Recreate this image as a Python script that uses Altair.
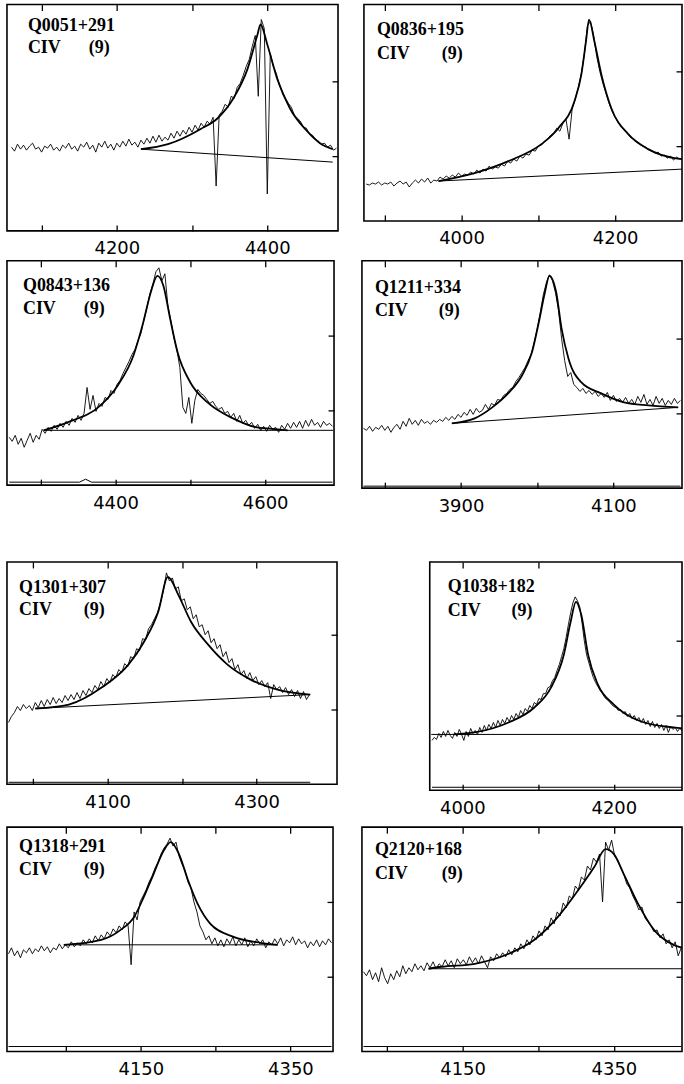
import altair as alt
import pandas as pd

# ---------------- data ----------------
NAMES = ["Q0051+291", "Q0836+195", "Q0843+136", "Q1211+334",
         "Q1301+307", "Q1038+182", "Q1318+291", "Q2120+168"]
LINE_ID = "CIV"
REF_NO = "(9)"
RIGHT_TICKS = [75, 150]

# Panel 1  Q0051+291
P1_W0, P1_DW = 4060, 4
P1_FLUX = [84, 80, 87, 82, 86, 81, 85, 88, 82, 84, 79, 85, 83, 87, 81, 84, 80, 86, 83, 88,
           82, 85, 80, 87, 84, 89, 82, 86, 79, 88, 84, 90, 83, 87, 81, 88, 84, 90, 85, 92,
           86, 89, 84, 91, 87, 93, 88, 95, 89, 96, 90, 94, 91, 98, 93, 100, 95, 101, 97, 104,
           99, 106, 101, 108, 104, 110, 107, 114, 45, 116, 120, 127, 124, 135, 133, 144, 148, 156, 165, 172,
           185, 196, 135, 212, 203, 37, 178, 165, 158, 146, 140, 133, 128, 124, 116, 113, 110, 104, 103, 97,
           96, 92, 90, 87, 88, 84, 86, 81, 83]
P1_FIT_W = [4232, 4268, 4311, 4334, 4355, 4374, 4387, 4391, 4400, 4413, 4430, 4453, 4470, 4487]
P1_FIT_F = [82, 87, 102, 113, 133, 163, 197, 207, 187, 153, 123, 100, 88, 82]
P1_BASE_W = [4232, 4487]
P1_BASE_F = [82, 69]
P1_ZERO_W = []
P1_ZERO_F = []
P1_XDOM = [4054, 4494]
P1_YDOM = [0, 227]
P1_TICKS = [4100, 4200, 4300, 4400]
P1_LABELS = [4200, 4400]

# Panel 2  Q0836+195
P2_W0, P2_DW = 3876, 4
P2_FLUX = [37, 36, 38, 37, 39, 36, 38, 37, 39, 35, 38, 40, 37, 39, 34, 38, 41, 38, 42, 39,
           43, 38, 41, 40, 44, 42, 45, 43, 46, 44, 48, 45, 47, 46, 49, 47, 51, 48, 52, 50,
           55, 52, 54, 53, 57, 55, 60, 58, 62, 60, 65, 63, 67, 66, 71, 70, 75, 76, 80, 82,
           86, 88, 93, 90, 98, 102, 82, 112, 122, 134, 148, 168, 196, 200, 186, 165, 150, 138, 128, 118,
           110, 104, 99, 94, 91, 88, 84, 82, 79, 77, 75, 74, 71, 70, 68, 69, 65, 66, 63, 65,
           61, 64, 62, 63]
P2_FIT_W = [3970, 4017, 4061, 4104, 4126, 4147, 4156, 4162, 4166, 4173, 4182, 4195, 4217, 4243, 4277, 4288]
P2_FIT_F = [40, 48, 60, 77, 93, 120, 147, 180, 202, 180, 147, 113, 87, 72, 63, 62]
P2_BASE_W = [3970, 4288]
P2_BASE_F = [40, 52]
P2_ZERO_W = []
P2_ZERO_F = []
P2_XDOM = [3873, 4287]
P2_YDOM = [0, 217]
P2_TICKS = [3900, 4000, 4100, 4200]
P2_LABELS = [4000, 4200]

# Panel 3  Q0843+136
P3_W0, P3_DW = 4258, 4
P3_FLUX = [48, 44, 50, 41, 47, 38, 45, 52, 43, 50, 46, 56, 52, 58, 54, 60, 56, 62, 58, 64,
           60, 67, 63, 70, 65, 72, 98, 76, 90, 74, 82, 79, 88, 86, 95, 92, 101, 105, 112, 118,
           124, 131, 136, 145, 152, 166, 178, 192, 202, 214, 218, 205, 212, 180, 165, 148, 136, 118, 78, 72,
           88, 62, 85, 96, 92, 90, 86, 82, 84, 79, 76, 78, 72, 74, 68, 72, 64, 70, 62, 65,
           60, 63, 57, 61, 55, 59, 54, 60, 56, 58, 53, 60, 56, 62, 57, 63, 58, 64, 57, 65,
           59, 66, 60, 63, 58, 64, 60, 62, 59]
P3_FIT_W = [4304, 4336, 4380, 4403, 4424, 4437, 4447, 4456, 4464, 4473, 4483, 4500, 4523, 4557, 4589, 4603, 4630]
P3_FIT_F = [55, 63, 80, 100, 130, 163, 193, 210, 200, 167, 133, 103, 83, 67, 58, 57, 55]
P3_BASE_W = [4304, 4691]
P3_BASE_F = [55, 55]
P3_ZERO_W = [4258, 4352, 4360, 4368, 4690]
P3_ZERO_F = [3, 3, 6, 3, 3]
P3_XDOM = [4255, 4692]
P3_YDOM = [0, 225]
P3_TICKS = [4300, 4400, 4500, 4600]
P3_LABELS = [4400, 4600]

# Panel 4  Q1211+334
P4_W0, P4_DW = 3772, 4
P4_FLUX = [60, 58, 62, 57, 61, 59, 63, 58, 62, 56, 61, 64, 59, 67, 62, 70, 64, 68, 63, 69,
           65, 67, 64, 68, 66, 69, 67, 71, 68, 72, 69, 74, 71, 76, 73, 79, 74, 80, 76, 78,
           84, 79, 85, 83, 89, 88, 93, 95, 99, 101, 107, 111, 116, 121, 128, 134, 146, 160, 176, 194,
           206, 214, 208, 196, 178, 150, 128, 112, 116, 104, 101, 97, 100, 95, 98, 94, 97, 92, 95, 91,
           96, 88, 93, 87, 90, 86, 91, 85, 89, 84, 92, 86, 94, 84, 89, 83, 92, 85, 90, 83,
           88, 84, 90, 85, 88]
P4_FIT_W = [3888, 3918, 3941, 3963, 3980, 3993, 4002, 4010, 4016, 4025, 4032, 4041, 4058, 4084, 4114, 4146, 4185]
P4_FIT_F = [65, 70, 81, 96, 113, 136, 166, 196, 213, 196, 160, 130, 106, 95, 86, 83, 81]
P4_BASE_W = [3888, 4185]
P4_BASE_F = [65, 81]
P4_ZERO_W = [3772, 4188]
P4_ZERO_F = [2, 2]
P4_XDOM = [3770, 4190]
P4_YDOM = [0, 228]
P4_TICKS = [3800, 3900, 4000, 4100]
P4_LABELS = [3900, 4100]

# Panel 5  Q1301+307
P5_W0, P5_DW = 3967, 4
P5_FLUX = [62, 68, 72, 78, 74, 80, 76, 79, 74, 82, 77, 84, 78, 85, 80, 87, 81, 86, 82, 89,
           84, 90, 85, 92, 86, 94, 89, 96, 92, 99, 95, 103, 98, 106, 102, 110, 107, 115, 112, 121,
           118, 128, 126, 136, 134, 146, 145, 156, 160, 166, 172, 182, 194, 212, 204, 207, 196, 198, 184, 186,
           175, 178, 166, 170, 158, 160, 150, 154, 142, 146, 136, 140, 128, 133, 122, 126, 115, 120, 110, 114,
           106, 112, 104, 108, 100, 104, 98, 102, 86, 100, 95, 98, 92, 97, 90, 95, 88, 94, 86, 93,
           85, 90]
P5_FIT_W = [4003, 4048, 4092, 4128, 4149, 4168, 4181, 4195, 4212, 4235, 4261, 4292, 4328, 4372]
P5_FIT_F = [76, 80, 97, 120, 143, 173, 208, 190, 163, 140, 120, 105, 95, 90]
P5_BASE_W = [4003, 4372]
P5_BASE_F = [76, 90]
P5_ZERO_W = [3967, 4372]
P5_ZERO_F = [2, 2]
P5_XDOM = [3965, 4408]
P5_YDOM = [0, 223]
P5_TICKS = [4000, 4100, 4200, 4300]
P5_LABELS = [4100, 4300]

# Panel 6  Q1038+182
P6_W0, P6_DW = 3960, 3
P6_FLUX = [50, 53, 51, 57, 53, 59, 54, 60, 55, 52, 58, 54, 61, 56, 50, 59, 54, 62, 57, 60,
           56, 63, 58, 65, 60, 66, 62, 68, 63, 70, 65, 71, 67, 73, 69, 75, 71, 77, 73, 80,
           76, 82, 79, 85, 82, 88, 86, 92, 91, 97, 97, 103, 104, 110, 113, 120, 126, 134, 142, 153,
           166, 178, 188, 194, 190, 184, 168, 150, 136, 128, 120, 113, 108, 104, 100, 97, 93, 91, 89, 86,
           84, 83, 80, 81, 77, 79, 74, 77, 72, 75, 70, 73, 68, 72, 66, 70, 64, 69, 63, 67,
           62, 66, 60, 65, 58, 64, 61, 63, 59, 62, 60]
P6_FIT_W = [3989, 4016, 4061, 4095, 4117, 4134, 4143, 4150, 4157, 4166, 4179, 4200, 4236, 4279, 4291]
P6_FIT_F = [56, 58, 68, 83, 103, 136, 169, 189, 176, 136, 106, 86, 69, 63, 62]
P6_BASE_W = [3959, 4291]
P6_BASE_F = [56, 56]
P6_ZERO_W = [3960, 4290]
P6_ZERO_F = [3, 3]
P6_XDOM = [3957, 4290]
P6_YDOM = [0, 229]
P6_TICKS = [4000, 4100, 4200]
P6_LABELS = [4000, 4200]

# Panel 7  Q1318+291
P7_W0, P7_DW = 3973, 4
P7_FLUX = [98, 104, 96, 101, 94, 102, 99, 104, 98, 103, 100, 106, 101, 105, 99, 104, 102, 108, 103, 107,
           104, 110, 105, 109, 106, 112, 108, 113, 109, 116, 111, 117, 113, 120, 116, 123, 119, 126, 122, 130,
           126, 87, 140, 132, 150, 156, 162, 170, 176, 184, 190, 198, 204, 208, 214, 206, 210, 196, 188, 182,
           170, 164, 150, 140, 126, 120, 112, 116, 108, 114, 106, 112, 105, 113, 108, 115, 106, 112, 107, 114,
           105, 111, 106, 113, 108, 112, 104, 110, 107, 113, 108, 114, 106, 112, 109, 115, 107, 113, 108, 111,
           104, 110, 106, 112, 105, 111, 107, 113, 109]
P7_FIT_W = [4047, 4097, 4123, 4141, 4154, 4167, 4181, 4190, 4201, 4213, 4226, 4243, 4274, 4310, 4333]
P7_FIT_F = [107, 112, 122, 135, 155, 178, 202, 210, 198, 172, 148, 128, 115, 109, 107]
P7_BASE_W = [4047, 4333]
P7_BASE_F = [107, 107]
P7_ZERO_W = [3973, 4405]
P7_ZERO_F = [5, 5]
P7_XDOM = [3971, 4407]
P7_YDOM = [0, 225]
P7_TICKS = [4050, 4150, 4250, 4350]
P7_LABELS = [4150, 4350]

# Panel 8  Q2120+168
P8_W0, P8_DW = 4019, 4
P8_FLUX = [80, 76, 82, 72, 79, 70, 84, 74, 68, 78, 72, 81, 75, 86, 78, 84, 80, 88, 82, 86,
           81, 89, 84, 90, 83, 88, 85, 92, 86, 91, 84, 93, 88, 92, 87, 95, 89, 94, 88, 96,
           90, 84, 95, 91, 98, 94, 99, 95, 102, 97, 104, 100, 108, 103, 112, 107, 116, 112, 121, 116,
           126, 122, 134, 128, 140, 136, 149, 144, 156, 153, 166, 162, 175, 172, 186, 182, 194, 190, 198, 150,
           210, 202, 212, 196, 192, 184, 178, 168, 164, 156, 150, 142, 145, 134, 130, 126, 120, 122, 114, 118,
           108, 112, 104, 110, 96, 104]
P8_FIT_W = [4105, 4122, 4166, 4211, 4245, 4276, 4303, 4324, 4339, 4350, 4363, 4382, 4403, 4429, 4441]
P8_FIT_F = [83, 85, 88, 98, 112, 135, 162, 185, 203, 198, 178, 148, 122, 107, 104]
P8_BASE_W = [4105, 4441]
P8_BASE_F = [83, 83]
P8_ZERO_W = [4019, 4439]
P8_ZERO_F = [5, 5]
P8_XDOM = [4017, 4440]
P8_YDOM = [0, 225]
P8_TICKS = [4050, 4150, 4250, 4350]
P8_LABELS = [4150, 4350]

# ---------------- layout (pixels) ----------------
WIDTHS = [332, 319, 328, 321, 331, 253, 327, 321]
HEIGHTS = [227, 217, 225, 228, 223, 229, 225, 225]
TEXT_X = [21, 13, 16, 13, 12, 18, 12, 13]
TEXT_X9 = [82, 78, 77, 77, 77, 82, 77, 80]
TEXT_Y1 = [22, 26, 25, 27, 26, 25, 20, 23]
TEXT_Y2 = [44, 50, 48, 50, 48, 49, 43, 47]


def panel(i, w0, dw, flux, fit_w, fit_f, base_w, base_f, zero_w, zero_f,
          xdom, ydom, ticks, labels):
    obs = pd.DataFrame({"wl": [w0 + k * dw for k in range(len(flux))], "flux": flux})
    fit = pd.DataFrame({"wl": fit_w, "flux": fit_f})
    base = pd.DataFrame({"wl": base_w, "flux": base_f})
    xs = alt.Scale(domain=xdom, nice=False, zero=False)
    ys = alt.Scale(domain=ydom, nice=False, zero=False)
    lab_expr = "indexof(" + str(labels) + ", datum.value) >= 0 ? datum.label : ''"
    bottom_axis = alt.Axis(orient="bottom", offset=-6, tickSize=6, tickWidth=1.3,
                           tickColor="black", domain=False, grid=False, values=ticks,
                           format="d", labelExpr=lab_expr, labelFont="DejaVu Sans",
                           labelFontSize=18, labelColor="black", labelPadding=9,
                           labelOverlap=False, labelFlush=False, title=None)
    top_axis = alt.Axis(orient="top", offset=-6, tickSize=6, tickWidth=1.3,
                        tickColor="black", domain=False, grid=False, values=ticks,
                        labels=False, title=None)
    right_axis = alt.Axis(orient="right", offset=-6, tickSize=6, tickWidth=1.3,
                          tickColor="black", domain=False, grid=False,
                          values=RIGHT_TICKS, labels=False, title=None)
    l_obs = alt.Chart(obs).mark_line(color="black", strokeWidth=0.9, clip=True).encode(
        x=alt.X("wl:Q", scale=xs, axis=bottom_axis),
        y=alt.Y("flux:Q", scale=ys, axis=None))
    l_fit = alt.Chart(fit).mark_line(color="black", strokeWidth=1.8,
                                     interpolate="monotone", clip=True).encode(
        x=alt.X("wl:Q", scale=xs, axis=top_axis),
        y=alt.Y("flux:Q", scale=ys, axis=right_axis))
    l_base = alt.Chart(base).mark_line(color="black", strokeWidth=1.0, clip=True).encode(
        x=alt.X("wl:Q", scale=xs, axis=None),
        y=alt.Y("flux:Q", scale=ys, axis=None))
    layers = [l_obs, l_fit, l_base]
    if zero_w:
        zero = pd.DataFrame({"wl": zero_w, "flux": zero_f})
        layers.append(alt.Chart(zero).mark_line(color="black", strokeWidth=1.0, clip=True).encode(
            x=alt.X("wl:Q", scale=xs, axis=None),
            y=alt.Y("flux:Q", scale=ys, axis=None)))
    tstyle = dict(align="left", baseline="middle", font="Liberation Serif",
                  fontWeight="bold", fontSize=18, color="black")
    for txt, tx, ty in [(NAMES[i], TEXT_X[i], TEXT_Y1[i]),
                        (LINE_ID, TEXT_X[i], TEXT_Y2[i]),
                        (REF_NO, TEXT_X9[i], TEXT_Y2[i])]:
        layers.append(alt.Chart(pd.DataFrame({"t": [txt]})).mark_text(**tstyle).encode(
            text="t:N", x=alt.value(tx), y=alt.value(ty)))
    return alt.layer(*layers).resolve_axis(x="independent", y="independent").properties(
        width=WIDTHS[i], height=HEIGHTS[i])


p1 = panel(0, P1_W0, P1_DW, P1_FLUX, P1_FIT_W, P1_FIT_F, P1_BASE_W, P1_BASE_F,
           P1_ZERO_W, P1_ZERO_F, P1_XDOM, P1_YDOM, P1_TICKS, P1_LABELS)
p2 = panel(1, P2_W0, P2_DW, P2_FLUX, P2_FIT_W, P2_FIT_F, P2_BASE_W, P2_BASE_F,
           P2_ZERO_W, P2_ZERO_F, P2_XDOM, P2_YDOM, P2_TICKS, P2_LABELS)
p3 = panel(2, P3_W0, P3_DW, P3_FLUX, P3_FIT_W, P3_FIT_F, P3_BASE_W, P3_BASE_F,
           P3_ZERO_W, P3_ZERO_F, P3_XDOM, P3_YDOM, P3_TICKS, P3_LABELS)
p4 = panel(3, P4_W0, P4_DW, P4_FLUX, P4_FIT_W, P4_FIT_F, P4_BASE_W, P4_BASE_F,
           P4_ZERO_W, P4_ZERO_F, P4_XDOM, P4_YDOM, P4_TICKS, P4_LABELS)
p5 = panel(4, P5_W0, P5_DW, P5_FLUX, P5_FIT_W, P5_FIT_F, P5_BASE_W, P5_BASE_F,
           P5_ZERO_W, P5_ZERO_F, P5_XDOM, P5_YDOM, P5_TICKS, P5_LABELS)
p6 = panel(5, P6_W0, P6_DW, P6_FLUX, P6_FIT_W, P6_FIT_F, P6_BASE_W, P6_BASE_F,
           P6_ZERO_W, P6_ZERO_F, P6_XDOM, P6_YDOM, P6_TICKS, P6_LABELS)
p7 = panel(6, P7_W0, P7_DW, P7_FLUX, P7_FIT_W, P7_FIT_F, P7_BASE_W, P7_BASE_F,
           P7_ZERO_W, P7_ZERO_F, P7_XDOM, P7_YDOM, P7_TICKS, P7_LABELS)
p8 = panel(7, P8_W0, P8_DW, P8_FLUX, P8_FIT_W, P8_FIT_F, P8_BASE_W, P8_BASE_F,
           P8_ZERO_W, P8_ZERO_F, P8_XDOM, P8_YDOM, P8_TICKS, P8_LABELS)

row1 = alt.hconcat(p1, p2, spacing=26, bounds="flush")
row2 = alt.hconcat(p3, p4, spacing=28, bounds="flush")
row3 = alt.hconcat(p5, p6, spacing=93, bounds="flush")
row4 = alt.hconcat(p7, p8, spacing=29, bounds="flush")

top = alt.vconcat(row1, row2, spacing=0, bounds="full")
bottom = alt.vconcat(row3, row4, spacing=7, bounds="full")

chart = alt.vconcat(top, bottom, spacing=44, bounds="full").properties(
    padding={"left": 6, "top": 1, "right": 0, "bottom": 0},
    background="white"
).configure_view(
    stroke="black", strokeWidth=1.6
)

chart.save("out.html", embed_options={"renderer": "svg", "actions": False})
